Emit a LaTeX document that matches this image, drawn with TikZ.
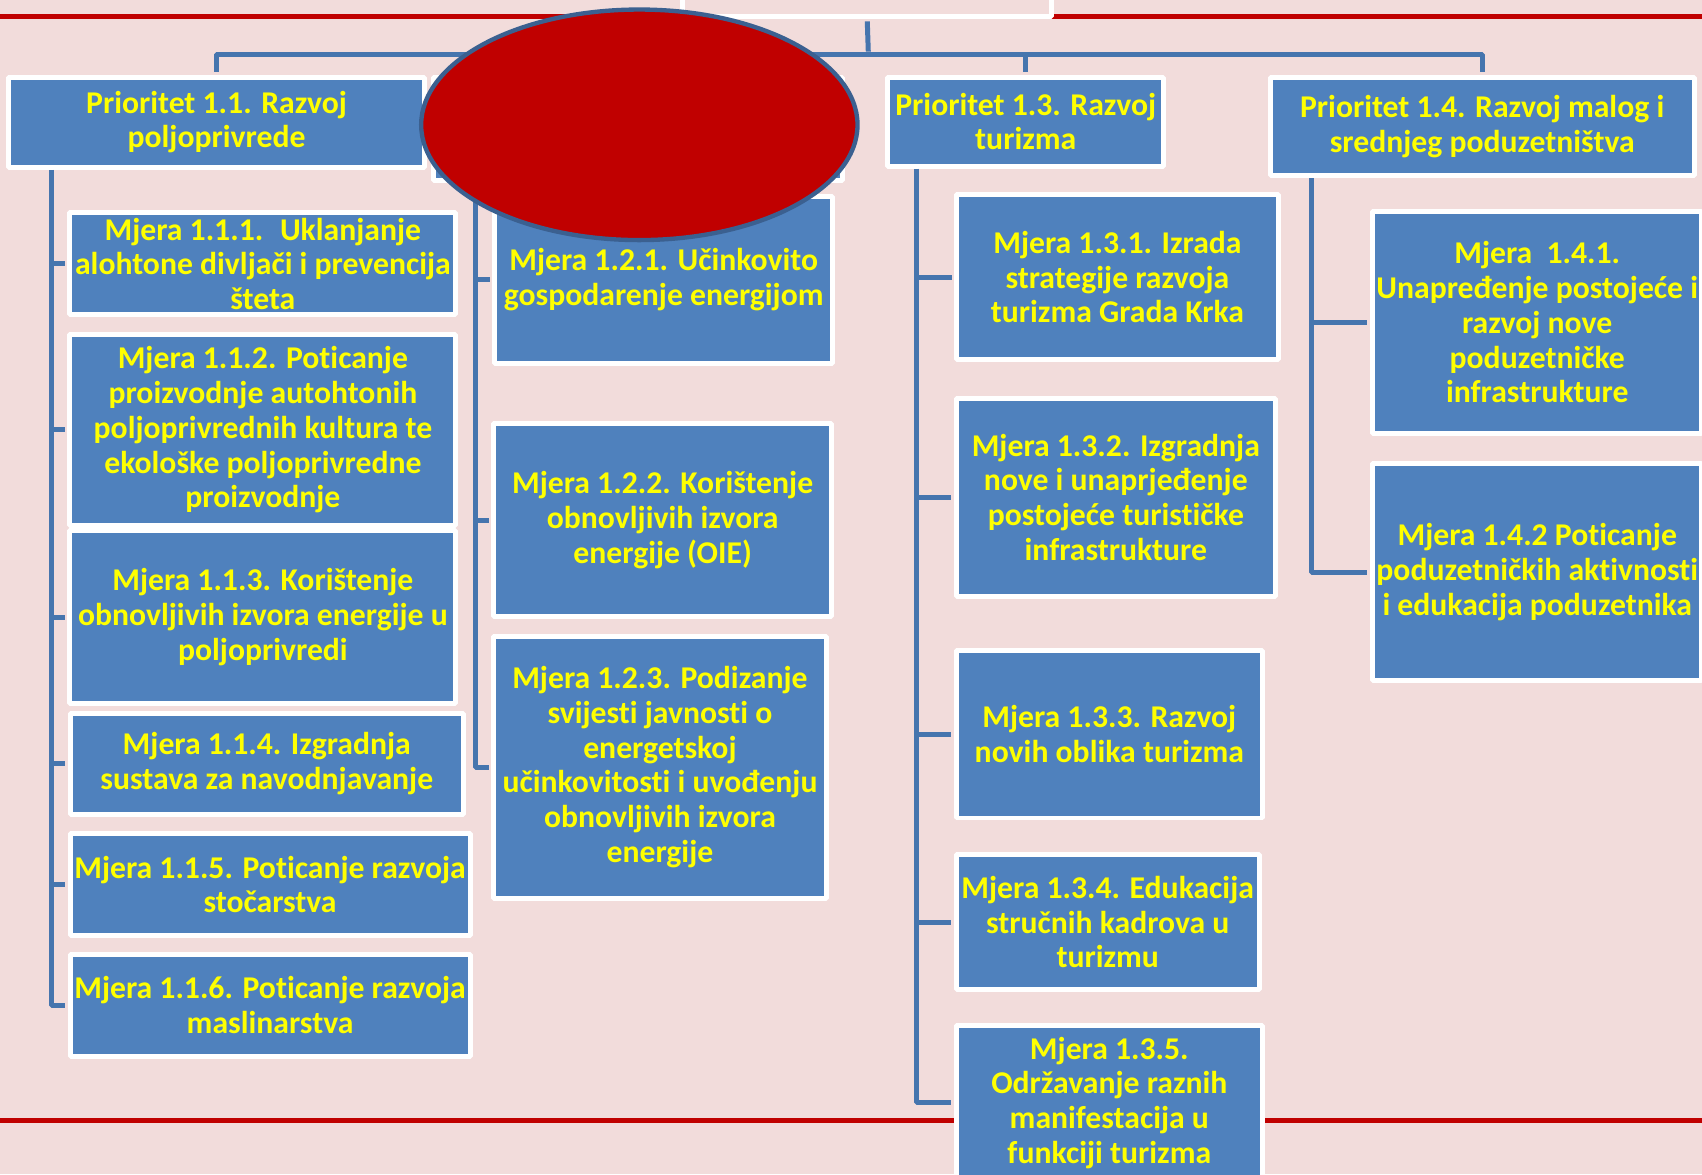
\documentclass[tikz,border=0pt]{standalone}
\usepackage{fontspec}
\setmainfont{Carlito}[Ligatures=CommonOff]
\usetikzlibrary{shapes.geometric}
\definecolor{pagebg}{HTML}{F2DCDB}
\definecolor{barred}{HTML}{C00000}
\definecolor{boxblue}{HTML}{4F81BD}
\definecolor{linkblue}{HTML}{4675AE}
\definecolor{ovalrim}{HTML}{3B6090}
\definecolor{textyellow}{HTML}{FFFF00}
\begin{document}
\begin{tikzpicture}[>=latex,line join=bevel,
  mjerabox/.style={draw=white,line width=2.3bp,fill=boxblue,text=textyellow,align=center,inner sep=0pt,font=\bfseries\fontsize{14.6bp}{16bp}\selectfont},
  link/.style={draw=linkblue,line width=2.3bp,shorten >=1.2bp},
  redbar/.style={draw=barred,line width=2.3bp},
]
%%
\useasboundingbox [fill=pagebg] (0bp,0bp) rectangle (784bp,541bp);
\draw [redbar] (0bp,533.5bp) -- (784bp,533.5bp);
\draw [redbar] (0bp,25bp) -- (784bp,25bp);
%
\node (top) at (399.5bp,544.75bp) [draw=white,line width=2.3bp,fill=pagebg,minimum width=170bp,minimum height=22.5bp] {};
\node (prio_1_1) at (99.75bp,484.75bp) [mjerabox,minimum width=191.5bp,minimum height=41.5bp] {Prioritet 1.1. Razvoj\\poljoprivrede};
\node (prio_1_2) at (293.75bp,481.75bp) [mjerabox,minimum width=188.5bp,minimum height=47.5bp] {};
\node (prio_1_3) at (472.5bp,485bp) [mjerabox,minimum width=127bp,minimum height=41bp] {Prioritet 1.3. Razvoj\\turizma};
\node (prio_1_4) at (682.75bp,482.75bp) [mjerabox,minimum width=195.5bp,minimum height=45.5bp] {Prioritet 1.4. Razvoj malog i\\srednjeg poduzetništva};
%
\node (mjera_1_1_1) at (121.1bp,419.5bp) [mjerabox,minimum width=177.75bp,minimum height=47bp] {Mjera 1.1.1.~ Uklanjanje\\alohtone divljači i prevencija\\šteta};
\node (mjera_1_1_2) at (121.1bp,343bp) [mjerabox,minimum width=177.75bp,minimum height=88bp] {Mjera 1.1.2. Poticanje\\proizvodnje autohtonih\\poljoprivrednih kultura te\\ekološke poljoprivredne\\proizvodnje};
\node (mjera_1_1_3) at (121.1bp,256.75bp) [mjerabox,minimum width=177.75bp,minimum height=79.5bp] {Mjera 1.1.3. Korištenje\\obnovljivih izvora energije u\\poljoprivredi};
\node (mjera_1_1_4) at (122.9bp,189.25bp) [mjerabox,minimum width=181.25bp,minimum height=46.5bp] {Mjera 1.1.4. Izgradnja\\sustava za navodnjavanje};
\node (mjera_1_1_5) at (124.4bp,133.6bp) [mjerabox,minimum width=184.25bp,minimum height=47.25bp] {Mjera 1.1.5. Poticanje razvoja\\stočarstva};
\node (mjera_1_1_6) at (124.4bp,78bp) [mjerabox,minimum width=184.25bp,minimum height=47bp] {Mjera 1.1.6. Poticanje razvoja\\maslinarstva};
%
\node (mjera_1_2_1) at (305.75bp,412.1bp) [mjerabox,minimum width=155.5bp,minimum height=76.8bp] {Mjera 1.2.1. Učinkovito\\gospodarenje energijom};
\node (mjera_1_2_2) at (305.25bp,301.35bp) [mjerabox,minimum width=155.5bp,minimum height=88.7bp] {Mjera 1.2.2. Korištenje\\obnovljivih izvora\\energije (OIE)};
\node (mjera_1_2_3) at (304bp,187.6bp) [mjerabox,minimum width=153bp,minimum height=120.75bp] {Mjera 1.2.3. Podizanje\\svijesti javnosti o\\energetskoj\\učinkovitosti i uvođenju\\obnovljivih izvora\\energije};
%
\node (mjera_1_3_1) at (514.75bp,413.35bp) [mjerabox,minimum width=148bp,minimum height=76.3bp] {Mjera 1.3.1. Izrada\\strategije razvoja\\turizma Grada Krka};
\node (mjera_1_3_2) at (514bp,311.9bp) [mjerabox,minimum width=147bp,minimum height=91.25bp] {Mjera 1.3.2. Izgradnja\\nove i unaprjeđenje\\postojeće turističke\\infrastrukture};
\node (mjera_1_3_3) at (511bp,202.85bp) [mjerabox,minimum width=141bp,minimum height=77.3bp] {Mjera 1.3.3. Razvoj\\novih oblika turizma};
\node (mjera_1_3_4) at (510.25bp,116.25bp) [mjerabox,minimum width=139.5bp,minimum height=62.5bp] {Mjera 1.3.4. Edukacija\\stručnih kadrova u\\turizmu};
\node (mjera_1_3_5) at (511bp,33bp) [mjerabox,minimum width=141bp,minimum height=71bp] {Mjera 1.3.5.\\Održavanje raznih\\manifestacija u\\funkciji turizma};
%
\node (mjera_1_4_1) at (708.1bp,392.5bp) [mjerabox,minimum width=151.75bp,minimum height=102bp] {Mjera~ 1.4.1.\\Unapređenje postojeće i\\razvoj nove\\poduzetničke\\infrastrukture};
\node (mjera_1_4_2) at (708.1bp,277.5bp) [mjerabox,minimum width=151.75bp,minimum height=100bp] {Mjera 1.4.2 Poticanje\\poduzetničkih aktivnosti\\i edukacija poduzetnika};
%
\coordinate (bus) at (400bp,516bp);
\draw [link] ([yshift=-1.2bp]top.south) -- (bus);
\draw [link] (bus) -| (prio_1_1.north);
\draw [link] (bus) -| (prio_1_2.north);
\draw [link] (bus) -| (prio_1_3.north);
\draw [link] (bus) -| (prio_1_4.north);
%
\coordinate (col_1) at (23.5bp,462.8bp);
\draw [link] (col_1) |- (mjera_1_1_6.west);
\draw [link] (col_1 |- mjera_1_1_1.west) -- (mjera_1_1_1.west);
\draw [link] (col_1 |- mjera_1_1_2.west) -- (mjera_1_1_2.west);
\draw [link] (col_1 |- mjera_1_1_3.west) -- (mjera_1_1_3.west);
\draw [link] (col_1 |- mjera_1_1_4.west) -- (mjera_1_1_4.west);
\draw [link] (col_1 |- mjera_1_1_5.west) -- (mjera_1_1_5.west);
%
\coordinate (col_2) at (219.25bp,456.8bp);
\draw [link] (col_2) |- (mjera_1_2_3.west);
\draw [link] (col_2 |- mjera_1_2_1.west) -- (mjera_1_2_1.west);
\draw [link] (col_2 |- mjera_1_2_2.west) -- (mjera_1_2_2.west);
%
\coordinate (col_3) at (422bp,463.3bp);
\draw [link] (col_3) |- (mjera_1_3_5.west);
\draw [link] (col_3 |- mjera_1_3_1.west) -- (mjera_1_3_1.west);
\draw [link] (col_3 |- mjera_1_3_2.west) -- (mjera_1_3_2.west);
\draw [link] (col_3 |- mjera_1_3_3.west) -- (mjera_1_3_3.west);
\draw [link] (col_3 |- mjera_1_3_4.west) -- (mjera_1_3_4.west);
%
\coordinate (col_4) at (604.25bp,458.8bp);
\draw [link] (col_4) |- (mjera_1_4_2.west);
\draw [link] (col_4 |- mjera_1_4_1.west) -- (mjera_1_4_1.west);
%
\node (oval) at (294.5bp,483.5bp) [ellipse,draw=ovalrim,line width=2bp,fill=barred,minimum width=201bp,minimum height=106.2bp,inner sep=0pt] {};
%
\end{tikzpicture}
\end{document}
